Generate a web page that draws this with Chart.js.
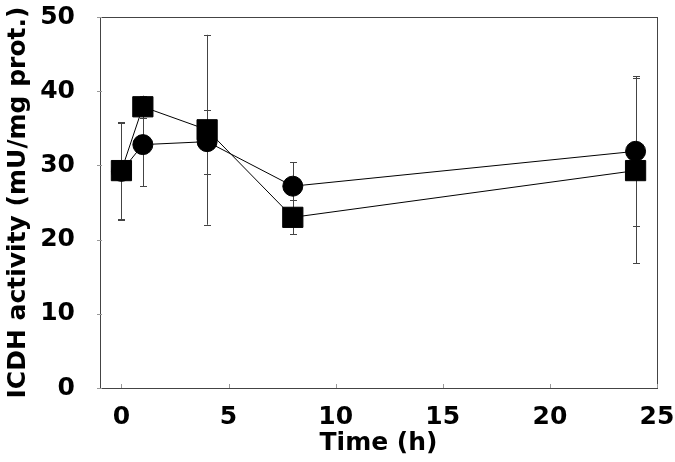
<!DOCTYPE html>
<html>
<head>
<meta charset="utf-8">
<script src="https://cdn.jsdelivr.net/npm/chart.js@4.4.1/dist/chart.umd.min.js"></script>
<style>
  html, body { margin: 0; padding: 0; background: #fff; }
  #wrap { width: 675px; height: 462px; position: relative; }
</style>
</head>
<body>
<div id="wrap"><canvas id="icdhChart"></canvas></div>
<script>
// Time points (h)
const timePoints = [0, 1, 4, 8, 24];

// Circle series: mean and error
const circleValues = [29.2, 32.8, 33.2, 27.2, 31.9];
const circleErrors = [6.5, 5.6, 4.3, 3.2, 10.1];

// Square series: mean and error
const squareValues = [29.3, 37.9, 34.8, 23.0, 29.3];
const squareErrors = [6.5, 1.5, 12.8, 2.3, 12.5];

// Axis ticks
const xTicks = [0, 5, 10, 15, 20, 25];
const yTicks = [0, 10, 20, 30, 40, 50];

const labelFont = { family: "'DejaVu Sans', sans-serif", size: 25, weight: "bold" };

function toPoints(values) {
  return timePoints.map((t, i) => ({ x: t, y: values[i] }));
}

// Draw error bars under the markers
const errorBarPlugin = {
  id: "errorBars",
  beforeDatasetsDraw(chart) {
    const ctx = chart.ctx;
    const xScale = chart.scales.x;
    const yScale = chart.scales.y;
    ctx.save();
    ctx.strokeStyle = "#444";
    ctx.lineWidth = 1;
    chart.data.datasets.forEach((ds) => {
      ds.data.forEach((p, i) => {
        const err = ds.errors[i];
        const x = Math.round(xScale.getPixelForValue(p.x)) + 0.5;
        const yTop = yScale.getPixelForValue(p.y + err);
        const yBot = yScale.getPixelForValue(p.y - err);
        ctx.beginPath();
        ctx.moveTo(x, yTop);
        ctx.lineTo(x, yBot);
        ctx.moveTo(x - 3.5, Math.round(yTop) + 0.5);
        ctx.lineTo(x + 3.5, Math.round(yTop) + 0.5);
        ctx.moveTo(x - 3.5, Math.round(yBot) + 0.5);
        ctx.lineTo(x + 3.5, Math.round(yBot) + 0.5);
        ctx.stroke();
      });
    });
    ctx.restore();
  },
};

// Box around plot area plus small tick marks
const framePlugin = {
  id: "frame",
  afterDraw(chart) {
    const { left, right, top, bottom } = chart.chartArea;
    const ctx = chart.ctx;
    ctx.save();
    ctx.strokeStyle = "#444";
    ctx.lineWidth = 1;
    ctx.strokeRect(Math.round(left) + 0.5, Math.round(top) + 0.5, Math.round(right - left), Math.round(bottom - top));
    ctx.strokeStyle = "#999";
    ctx.beginPath();
    xTicks.forEach((v) => {
      const x = Math.round(chart.scales.x.getPixelForValue(v)) + 0.5;
      ctx.moveTo(x, bottom - 4);
      ctx.lineTo(x, bottom);
    });
    yTicks.forEach((v) => {
      const y = Math.round(chart.scales.y.getPixelForValue(v)) + 0.5;
      ctx.moveTo(left - 3, y);
      ctx.lineTo(left + 2, y);
    });
    ctx.stroke();
    ctx.restore();
  },
};

const ctx = document.getElementById("icdhChart").getContext("2d");
new Chart(ctx, {
  type: "line",
  data: {
    datasets: [
      {
        label: "circle",
        data: toPoints(circleValues),
        errors: circleErrors,
        pointStyle: "circle",
        pointRadius: 10,
        backgroundColor: "#000",
        borderColor: "#000",
        borderWidth: 1,
        pointBorderWidth: 1,
      },
      {
        label: "square",
        data: toPoints(squareValues),
        errors: squareErrors,
        pointStyle: "rect",
        pointRadius: 14.3,
        backgroundColor: "#000",
        borderColor: "#000",
        borderWidth: 1,
        pointBorderWidth: 1,
      },
    ],
  },
  options: {
    responsive: true,
    maintainAspectRatio: false,
    animation: false,
    layout: { padding: { left: 0, right: 18, top: 17, bottom: 0 } },
    plugins: {
      legend: { display: false },
      tooltip: { enabled: false },
    },
    scales: {
      x: {
        type: "linear",
        min: -1,
        max: 25,
        afterBuildTicks: (s) => { s.ticks = xTicks.map((v) => ({ value: v })); },
        afterFit: (s) => { s.height = 74; s.paddingLeft = 0; s.paddingRight = 0; },
        grid: { display: false },
        border: { display: false },
        ticks: { color: "#000", font: labelFont, padding: 6, maxRotation: 0, autoSkip: false },
        title: { display: true, text: "Time (h)", color: "#000", font: labelFont, padding: { top: 0, bottom: 4 } },
      },
      y: {
        type: "linear",
        min: 0,
        max: 50,
        afterBuildTicks: (s) => { s.ticks = yTicks.map((v) => ({ value: v })); },
        afterFit: (s) => { s.width = 100; s.paddingTop = 0; s.paddingBottom = 0; },
        grid: { display: false },
        border: { display: false },
        ticks: { color: "#000", font: labelFont, padding: 17 },
        title: { display: true, text: "ICDH activity (mU/mg prot.)", color: "#000", font: labelFont, padding: { top: 3, bottom: 0 } },
      },
    },
  },
  plugins: [errorBarPlugin, framePlugin],
});
</script>
</body>
</html>
